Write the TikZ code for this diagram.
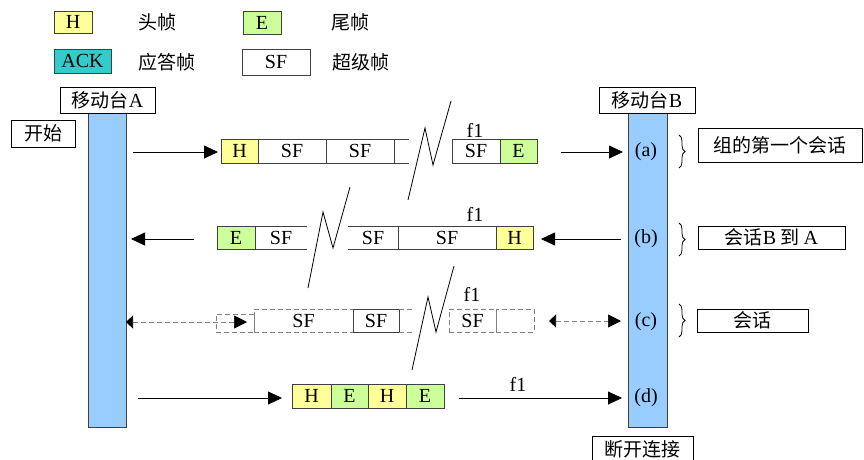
\documentclass[tikz,border=0pt]{standalone}
\usepackage{fontspec}
\setmainfont{Liberation Serif}
\newfontfamily\cjk{Noto Sans CJK SC}
\usetikzlibrary{arrows.meta,decorations.pathreplacing}

\definecolor{hdrY}{HTML}{FFFF99}
\definecolor{endG}{HTML}{CCFF99}
\definecolor{ackC}{HTML}{33CCCC}
\definecolor{barB}{HTML}{99CCFF}
\definecolor{edgeC}{HTML}{404040}

\tikzset{
  lat/.style={font=\fontsize{20}{20}\selectfont},
  zh/.style={font=\fontsize{19}{19}\cjk},
  cell/.style={draw=edgeC, line width=0.8pt, minimum height=24pt, inner sep=0pt,
    outer sep=0pt, anchor=west, lat},
  opencell/.style={minimum height=23pt, inner sep=0pt, outer sep=0pt, anchor=west, lat},
  dcell/.style={draw=gray, dash pattern=on 5pt off 3pt, line width=0.7pt, minimum height=23pt, inner sep=0pt,
    outer sep=0pt, anchor=west, lat},
  tag/.style={draw, line width=0.8pt, inner sep=0pt, outer sep=0pt, zh},
  bar/.style={draw=edgeC, line width=0.8pt, fill=barB, minimum width=38pt,
    minimum height=314pt, inner sep=0pt, outer sep=0pt},
  arr/.style={line width=0.8pt, -{Triangle[length=14pt,width=13pt]}},
  darr/.style={draw=gray, dash pattern=on 5pt off 3pt, line width=0.7pt},
  dtips/.style={{Triangle[length=7pt,width=13pt,color=black]}-{Triangle[length=13pt,width=13pt,color=black]}},
  zig/.style={line width=0.8pt, line join=miter},
  brc/.style={decorate, decoration={brace, amplitude=6pt}, line width=0.8pt},
  rowlbl/.style={lat, inner sep=0pt},
}

\begin{document}
\begin{tikzpicture}[x=1pt, y=-1pt]
\useasboundingbox (0,0) rectangle (864,459);

% legend
\node[cell, fill=hdrY, minimum width=38pt, minimum height=22pt] (lgH) at (54,22) {H};
\node[zh, anchor=west, inner sep=0pt] (lgHt) at (138,22) {头帧};
\node[cell, fill=endG, minimum width=38pt, minimum height=23pt] (lgE) at (243,22.5) {E};
\node[zh, anchor=west, inner sep=0pt] (lgEt) at (331,22) {尾帧};
\node[cell, fill=ackC, minimum width=57pt] (lgA) at (54,61) {ACK};
\node[zh, anchor=west, inner sep=0pt] (lgAt) at (138,62) {应答帧};
\node[cell, minimum width=68pt, minimum height=26pt] (lgS) at (242,62) {SF};
\node[zh, anchor=west, inner sep=0pt] (lgSt) at (332,62) {超级帧};

% stations
\node[bar] (barA) at (107,270) {};
\node[bar, minimum width=39pt] (barB) at (647.5,270) {};
\node[tag, minimum width=95pt, minimum height=26pt] (labA) at (107.5,100) {移动台{\fontsize{20}{20}\rmfamily A}};
\node[tag, minimum width=96pt, minimum height=26pt] (labB) at (647,100) {移动台{\fontsize{20}{20}\rmfamily B}};
\node[tag, minimum width=64pt, minimum height=27pt] (start) at (43,133.5) {开始};
\node[tag, minimum width=101pt, minimum height=27pt] (stop) at (642.5,449.5) {断开连接};

% step labels on station B
\node[rowlbl] (la) at (646,152) {(a)};
\node[rowlbl] (lb) at (646,239) {(b)};
\node[rowlbl] (lc) at (646,322) {(c)};
\node[rowlbl] (ld) at (646,398) {(d)};

% braces and notes
\draw[brc] (679,135) -- (679,168);
\draw[brc] (679,223) -- (679,256);
\draw[brc] (679,304) -- (679,337);
\node[tag, minimum width=164pt, minimum height=34pt] (na) at (780,145) {组的第一个会话};
\node[tag, minimum width=147pt, minimum height=23pt] (nb) at (771.5,237.5) {会话{\fontsize{20}{20}\rmfamily B} 到 {\fontsize{20}{20}\rmfamily A}};
\node[tag, minimum width=111pt, minimum height=23pt] (nc) at (752.5,320.5) {会话};

% row (a)
\node[cell, fill=hdrY, minimum width=37pt] (a1) at (221,151) {H};
\node[cell, minimum width=68pt] (a2) at (a1.east) {SF};
\node[cell, minimum width=68pt] (a3) at (a2.east) {SF};
\draw[draw=edgeC, line width=0.8pt] (a3.north east) -- ++(15,0) (a3.south east) -- ++(15,0);
\node[cell, minimum width=48pt] (a4) at (452,151) {SF};
\node[cell, fill=endG, minimum width=37pt] (a5) at (a4.east) {E};
\node[lat, inner sep=0pt] (fa) at (475,130) {f1};
\coordinate (aS) at (133,152);
\coordinate (aT) at (561,152);
\draw[arr, shorten >=3pt] (aS) -- (aS -| a1.west);
\draw[arr, shorten >=5pt] (aT) -- (aT -| barB.west);
\draw[zig] (408,200) -- (425,128) -- (433,165) -- (451,101);

% row (b)
\node[cell, fill=endG, minimum width=38pt, minimum height=23pt] (b1) at (217,237.5) {E};
\node[opencell, minimum width=52pt] (b2) at (b1.east) {SF};
\draw[draw=edgeC, line width=0.8pt] (b2.north west) -- (b2.north east) (b2.south west) -- (b2.south east);
\node[opencell, minimum width=50pt] (b3) at (348,237.5) {\raisebox{-3pt}{SF}};
\draw[draw=edgeC, line width=0.8pt] (b3.north west) -- (b3.north east) (b3.south west) -- (b3.south east);
\node[cell, minimum width=98pt, minimum height=23pt] (b4) at (b3.east) {SF};
\node[cell, fill=hdrY, minimum width=37pt, minimum height=23pt] (b5) at (b4.east) {H};
\node[lat, inner sep=0pt] (fb) at (475,214) {f1};
\coordinate (bS) at (621,239);
\coordinate (bT) at (194,239);
\draw[arr, shorten >=8pt] (bS) -- (bS -| b5.east);
\draw[arr, shorten >=5pt] (bT) -- (bT -| barA.east);
\draw[zig] (308,288) -- (323,212) -- (333,248) -- (350,187);

% row (c)
\node[dcell, minimum width=38pt, minimum height=18pt] (c0) at (216,323) {};
\node[dcell, minimum width=99pt] (c1) at (254,320.5) {SF};
\node[cell, fill=white, minimum width=46pt, minimum height=23pt] (c2) at (353,320.5) {SF};
\draw[darr] (c2.north east) -- ++(14,0) (c2.south east) -- ++(14,0);
\node[dcell, minimum width=47pt] (c3) at (449,320.5) {SF};
\node[dcell, minimum width=38pt] (c4) at (c3.east) {};
\draw[draw=gray, line width=0.8pt] (c3.north east) -- (c3.south east);
\node[lat, inner sep=0pt] (fc) at (472,294) {f1};
\coordinate (cS) at (247,322);
\coordinate (cT) at (549,321);
\draw[darr, dtips] (cS -| barA.east) -- (cS);
\draw[darr, dtips, shorten >=7pt] (cT) -- (cT -| barB.west);
\draw[zig] (412,370) -- (428,297) -- (436,332) -- (454,266);

% row (d)
\node[cell, fill=hdrY, minimum width=39pt] (d1) at (292,396) {H};
\node[cell, fill=endG, minimum width=37pt] (d2) at (d1.east) {E};
\node[cell, fill=hdrY, minimum width=38pt] (d3) at (d2.east) {H};
\node[cell, fill=endG, minimum width=38pt] (d4) at (d3.east) {E};
\node[lat, inner sep=0pt] (fd) at (518,384) {f1};
\coordinate (dS) at (138,398);
\coordinate (dM) at (459,398);
\draw[arr, shorten >=10pt] (dS) -- (dS -| d1.west);
\draw[arr, shorten >=6pt] (dM) -- (dM -| barB.west);
\end{tikzpicture}
\end{document}
